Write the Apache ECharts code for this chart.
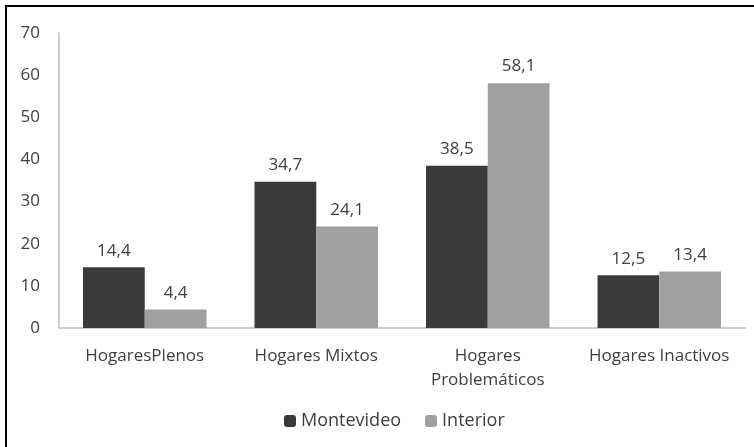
<!DOCTYPE html>
<html>
<head>
<meta charset="utf-8">
<script src="https://cdn.jsdelivr.net/npm/echarts@6/dist/echarts.min.js"></script>
<style>
html,body{margin:0;padding:0;background:#fff;}
#wrap{position:relative;width:754px;height:447px;overflow:hidden;background:#fff;}
#frame{position:absolute;left:5px;top:5px;width:760px;height:460px;border-left:2px solid #000;border-top:2px solid #000;box-sizing:border-box;}
#chart{position:absolute;left:0;top:0;width:754px;height:447px;}
</style>
</head>
<body>
<div id="wrap"><div id="frame"></div><div id="chart"></div></div>
<script>
const categories = ['HogaresPlenos', 'Hogares Mixtos', 'Hogares\nProblemáticos', 'Hogares Inactivos'];
const montevideo = [14.4, 34.7, 38.5, 12.5];
const interior = [4.4, 24.1, 58.1, 13.4];
const yTicks = [0, 10, 20, 30, 40, 50, 60, 70];

const font = '"Open Sans", "Noto Sans", sans-serif';
const chart = echarts.init(document.getElementById('chart'));
const fmt = p => String(p.value).replace('.', ',');
chart.setOption({
  animation: false,
  backgroundColor: 'transparent',
  textStyle: {fontFamily: font},
  grid: {left: 59, right: 9, top: 33, bottom: 119, containLabel: false},
  legend: {
    bottom: 12, left: 279,
    itemWidth: 12, itemHeight: 12, itemGap: 24,
    textStyle: {fontSize: 18, color: '#404040', fontFamily: font},
    data: ['Montevideo', 'Interior']
  },
  xAxis: {
    type: 'category', data: categories,
    axisLine: {lineStyle: {color: '#bdbdbd', width: 1.5}},
    axisTick: {show: false},
    axisLabel: {fontSize: 17, color: '#404040', margin: 16, lineHeight: 24, interval: 0}
  },
  yAxis: {
    type: 'value', min: yTicks[0], max: yTicks[yTicks.length - 1], interval: 10,
    axisLine: {show: true, lineStyle: {color: '#bdbdbd', width: 1.5}},
    axisTick: {show: false},
    splitLine: {show: false},
    axisLabel: {fontSize: 17, color: '#404040', margin: 19}
  },
  series: [
    {name: 'Montevideo', type: 'bar', data: montevideo, barGap: '0%', barCategoryGap: '28%',
     itemStyle: {color: '#3a3a3a'},
     label: {show: true, position: 'top', distance: 8, fontSize: 17, color: '#404040', formatter: fmt}},
    {name: 'Interior', type: 'bar', data: interior,
     itemStyle: {color: '#a0a0a0'},
     label: {show: true, position: 'top', distance: 8, fontSize: 17, color: '#404040', formatter: fmt}}
  ]
});
</script>
</body>
</html>
